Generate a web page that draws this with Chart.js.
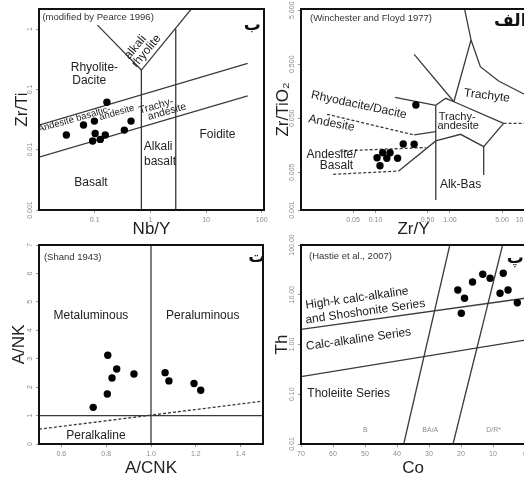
<!DOCTYPE html>
<html>
<head>
<meta charset="utf-8">
<script src="https://cdn.jsdelivr.net/npm/chart.js@4.4.0/dist/chart.umd.min.js"></script>
<style>
    body { margin: 0; background: #fff; width: 524px; height: 477px; overflow: hidden; position: relative; }
    canvas { position: absolute; }
</style>
</head>
<body>
<canvas id="pearce" width="268" height="240" style="left:0;top:0"></canvas>
<canvas id="winchester" width="268" height="240" style="left:262px;top:0"></canvas>
<canvas id="shand" width="268" height="248" style="left:0;top:232px"></canvas>
<canvas id="hastie" width="268" height="248" style="left:262px;top:232px"></canvas>
<script>
// samples - Nb/Y vs Zr/Ti
const nbY = [0.031, 0.063, 0.099, 0.166, 0.102, 0.092, 0.126, 0.155, 0.341, 0.45];
const zrTi = [0.0175, 0.0256, 0.0298, 0.061, 0.0186, 0.0139, 0.0148, 0.0175, 0.0211, 0.0298];

// samples - Zr/Y vs Zr/TiO2
const zrY = [0.349, 0.236, 0.331, 0.125, 0.157, 0.105, 0.142, 0.198, 0.115];
const zrTiO2 = [0.088, 0.0167, 0.0165, 0.0115, 0.0115, 0.0093, 0.0091, 0.0091, 0.0066];

// samples - A/CNK vs A/NK
const aCnk = [0.742, 0.805, 0.826, 0.847, 0.807, 0.924, 1.063, 1.080, 1.192, 1.222];
const aNk = [1.29, 1.76, 2.32, 2.64, 3.12, 2.46, 2.51, 2.22, 2.13, 1.89];

// samples - Co vs Th
const co = [21.0, 18.9, 19.9, 16.4, 13.2, 10.9, 6.8, 7.8, 5.3, 2.4];
const th = [12.5, 8.5, 4.24, 18.0, 25.8, 21.4, 27.0, 10.7, 12.5, 6.9];

// field boundaries [x, y]
const pearceLines = [
    [[0.01, 0.0256], [56, 0.27]],
    [[0.01, 0.0075], [56, 0.078]],
    [[0.112, 1.16], [0.69, 0.209], [5.56, 2.2]],
    [[0.69, 0.209], [0.69, 0.001]],
    [[2.86, 1], [2.86, 0.001]]
];
const winchesterLines = [
    [[1.57, 5.3], [1.92, 1.41], [1.13, 0.101]],
    [[1.92, 1.41], [2.56, 0.451], [4.5, 0.245], [9.4, 0.145], [20, 0.09]],
    [[0.331, 0.764], [1.13, 0.101]],
    [[0.183, 0.122], [0.645, 0.0868]],
    [[0.645, 0.0868], [0.877, 0.117], [1.13, 0.101], [5.25, 0.0403]],
    [[0.645, 0.0868], [0.645, 0.00153]],
    [[0.331, 0.0245], [0.645, 0.0282]],
    [[0.205, 0.00527], [0.645, 0.019], [1.39, 0.0252], [2.84, 0.01487], [5.25, 0.0403]],
    [[2.84, 0.01487], [2.84, 0.00445]]
];
const winchesterDashed = [
    [[0.0224, 0.0592], [0.331, 0.0245]],
    [[0.0331, 0.0124], [0.474, 0.01437]],
    [[0.0271, 0.00458], [0.205, 0.00527]],
    [[5.25, 0.0403], [20, 0.0403]]
];
const shandLines = [
    [[1, 0], [1, 7]],
    [[0.5, 1], [1.5, 1]]
];
const shandDashed = [
    [[0.5, 0.52], [1.5, 1.51]]
];
const hastieLines = [
    [[70, 2.02], [0, 8.5]],
    [[70, 0.225], [0, 1.23]],
    [[37.9, 0.01], [23.5, 100]],
    [[22.5, 0.01], [7.0, 100]]
];

// ticks
const pearceXTicks = [0.1, 1, 10, 100];
const pearceXLabels = ['0.1', '1', '10', '100'];
const pearceYTicks = [0.001, 0.01, 0.1, 1];
const pearceYLabels = ['0.001', '0.01', '0.1', '1'];
const winchesterXTicks = [0.05, 0.1, 0.5, 1, 5, 10];
const winchesterXLabels = ['0.05', '0.10', '0.50', '1.00', '5.00', '10.00'];
const winchesterYTicks = [0.001, 0.005, 0.05, 0.5, 5];
const winchesterYLabels = ['0.001', '0.005', '0.050', '0.500', '5.000'];
const shandXTicks = [0.6, 0.8, 1.0, 1.2, 1.4];
const shandXLabels = ['0.6', '0.8', '1.0', '1.2', '1.4'];
const shandYTicks = [0, 1, 2, 3, 4, 5, 6, 7];
const shandYLabels = ['0', '1', '2', '3', '4', '5', '6', '7'];
const hastieXTicks = [70, 60, 50, 40, 30, 20, 10, 0];
const hastieXLabels = ['70', '60', '50', '40', '30', '20', '10', '0'];
const hastieYTicks = [0.01, 0.1, 1, 10, 100];
const hastieYLabels = ['0.01', '0.10', '1.00', '10.00', '100.00'];

const FONT = '"Liberation Sans", Arial, sans-serif';

const decor = {
    id: 'decor',
    afterDatasetsDraw(chart, args, o) {
        const { ctx, chartArea: a, scales: { x, y } } = chart;
        ctx.save();
        ctx.fillStyle = '#8c8c8c';
        ctx.font = '7px ' + FONT;
        ctx.textAlign = 'center';
        ctx.textBaseline = 'middle';
        o.xTicks.forEach((v, i) => ctx.fillText(o.xLabels[i], x.getPixelForValue(v), a.bottom + 10));
        o.yTicks.forEach((v, i) => {
            ctx.save();
            ctx.translate(a.left - 9, y.getPixelForValue(v));
            ctx.rotate(-Math.PI / 2);
            ctx.fillText(o.yLabels[i], 0, 0);
            ctx.restore();
        });

        ctx.strokeStyle = '#111';
        ctx.lineWidth = 2;
        ctx.strokeRect(a.left, a.top, a.right - a.left, a.bottom - a.top);

        o.notes.forEach(n => {
            ctx.save();
            ctx.translate(x.getPixelForValue(n.x), y.getPixelForValue(n.y));
            ctx.rotate((n.rot || 0) * Math.PI / 180);
            ctx.fillStyle = n.color || '#222';
            ctx.font = n.font || ('12px ' + FONT);
            ctx.textAlign = n.align || 'center';
            ctx.textBaseline = 'middle';
            ctx.fillText(n.t, 0, 0);
            ctx.restore();
        });
        ctx.restore();
    }
};

function lineSets(lines, dashed) {
    return lines.map(pts => ({
        data: pts.map(p => ({ x: p[0], y: p[1] })),
        showLine: true,
        pointRadius: 0,
        borderColor: '#3a3a3a',
        borderWidth: 1.3,
        borderDash: dashed ? [3, 2] : [],
        tension: 0
    }));
}

function makeChart(id, c) {
    const axis = (type, min, max, ticks, title, pad, fit, horizontal, reverse) => ({
        type, min, max, reverse: !!reverse,
        afterBuildTicks: s => { s.ticks = ticks.map(v => ({ value: v })); },
        afterFit: s => { if (horizontal) s.height = fit; else s.width = fit; },
        ticks: { display: false },
        grid: { drawOnChartArea: false, drawTicks: true, tickLength: 3, color: '#999' },
        border: { display: false },
        title: { display: true, text: title, color: '#222', font: { family: FONT, size: 17 }, padding: pad }
    });

    const points = {
        data: c.xs.map((v, i) => ({ x: v, y: c.ys[i] })),
        pointRadius: 3.7,
        pointBackgroundColor: '#000',
        pointBorderWidth: 0,
        showLine: false
    };

    return new Chart(document.getElementById(id), {
        type: 'scatter',
        data: { datasets: [points, ...lineSets(c.lines, false), ...lineSets(c.dashed || [], true)] },
        options: {
            responsive: false,
            animation: false,
            layout: { padding: c.pad },
            plugins: {
                legend: { display: false },
                tooltip: { enabled: false },
                decor: { xTicks: c.xTicks, xLabels: c.xLabels, yTicks: c.yTicks, yLabels: c.yLabels, notes: c.notes }
            },
            scales: {
                x: axis(c.xType, c.xMin, c.xMax, c.xTicks, c.xTitle, { top: 0, bottom: c.xPad }, c.xFit, true, c.xReverse),
                y: axis(c.yType, c.yMin, c.yMax, c.yTicks, c.yTitle, { top: c.yPad, bottom: 0 }, 39, false)
            }
        },
        plugins: [decor]
    });
}

const arabic = 'bold 17px "DejaVu Sans", sans-serif';
const cite = '9.5px ' + FONT;
const band = '9.5px ' + FONT;

makeChart('pearce', {
    xs: nbY, ys: zrTi, lines: pearceLines,
    xType: 'logarithmic', xMin: 0.01, xMax: 110, yType: 'logarithmic', yMin: 0.001, yMax: 2.15,
    xTicks: pearceXTicks, xLabels: pearceXLabels, yTicks: pearceYTicks, yLabels: pearceYLabels,
    xTitle: 'Nb/Y', yTitle: 'Zr/Ti', xPad: 0, yPad: 12.5, xFit: 30,
    pad: { top: 9, right: 3, left: 0, bottom: 0 },
    notes: [
        { t: '(modified by Pearce 1996)', x: 0.0115, y: 1.56, align: 'left', font: cite, color: '#333' },
        { t: 'ب', x: 68, y: 1.16, font: arabic, color: '#111' },
        { t: 'Rhyolite-', x: 0.099, y: 0.225 },
        { t: 'Dacite', x: 0.08, y: 0.139 },
        { t: 'alkali', x: 0.54, y: 0.5, rot: -50 },
        { t: 'rhyolite', x: 0.85, y: 0.43, rot: -50 },
        { t: 'Andesite basaltic-', x: 0.043, y: 0.032, rot: -16, font: band },
        { t: 'andesite', x: 0.25, y: 0.041, rot: -16, font: band },
        { t: 'Trachy-', x: 1.27, y: 0.053, rot: -16, font: '10.5px ' + FONT },
        { t: 'andesite', x: 2.0, y: 0.0425, rot: -16, font: '10.5px ' + FONT },
        { t: 'Foidite', x: 16.1, y: 0.0175 },
        { t: 'Alkali', x: 1.38, y: 0.0112 },
        { t: 'basalt', x: 1.49, y: 0.0063 },
        { t: 'Basalt', x: 0.086, y: 0.0028 }
    ]
});

makeChart('winchester', {
    xs: zrY, ys: zrTiO2, lines: winchesterLines, dashed: winchesterDashed,
    xType: 'logarithmic', xMin: 0.01, xMax: 10.5, yType: 'logarithmic', yMin: 0.001, yMax: 5.27,
    xTicks: winchesterXTicks, xLabels: winchesterXLabels, yTicks: winchesterYTicks, yLabels: winchesterYLabels,
    xTitle: 'Zr/Y', yTitle: 'Zr/TiO₂', xPad: 0, yPad: 11.5, xFit: 30,
    pad: { top: 9, right: 3, left: 0, bottom: 0 },
    notes: [
        { t: '(Winchester and Floyd 1977)', x: 0.0132, y: 3.59, align: 'left', font: cite, color: '#333' },
        { t: 'الف', x: 6.45, y: 3.07, font: arabic, color: '#111' },
        { t: 'Rhyodacite/Dacite', x: 0.0599, y: 0.088, rot: 12 },
        { t: 'Andesite', x: 0.0257, y: 0.0403, rot: 11 },
        { t: 'Andesite/', x: 0.0257, y: 0.01044 },
        { t: 'Basalt', x: 0.03, y: 0.0066 },
        { t: 'Trachy-', x: 1.25, y: 0.0534, font: '11px ' + FONT },
        { t: 'andesite', x: 1.29, y: 0.036, font: '11px ' + FONT },
        { t: 'Trachyte', x: 3.14, y: 0.131, rot: 7 },
        { t: 'Alk-Bas', x: 1.39, y: 0.003 }
    ]
});

makeChart('shand', {
    xs: aCnk, ys: aNk, lines: shandLines, dashed: shandDashed,
    xType: 'linear', xMin: 0.5, xMax: 1.5, yType: 'linear', yMin: 0, yMax: 7,
    xTicks: shandXTicks, xLabels: shandXLabels, yTicks: shandYTicks, yLabels: shandYLabels,
    xTitle: 'A/CNK', yTitle: 'A/NK', xPad: 1, yPad: 9, xFit: 36,
    pad: { top: 13, right: 5, left: 0, bottom: 0 },
    notes: [
        { t: '(Shand 1943)', x: 0.522, y: 6.58, align: 'left', font: cite, color: '#333' },
        { t: 'ت', x: 1.472, y: 6.54, font: arabic, color: '#111' },
        { t: 'Metaluminous', x: 0.732, y: 4.5 },
        { t: 'Peraluminous', x: 1.231, y: 4.5 },
        { t: 'Peralkaline', x: 0.754, y: 0.28 }
    ]
});

makeChart('hastie', {
    xs: co, ys: th, lines: hastieLines,
    xType: 'linear', xMin: 0, xMax: 70, xReverse: true, yType: 'logarithmic', yMin: 0.01, yMax: 100,
    xTicks: hastieXTicks, xLabels: hastieXLabels, yTicks: hastieYTicks, yLabels: hastieYLabels,
    xTitle: 'Co', yTitle: 'Th', xPad: 1, yPad: 10.5, xFit: 36,
    pad: { top: 13, right: 5, left: 0, bottom: 0 },
    notes: [
        { t: '(Hastie et al., 2007)', x: 67.5, y: 60, align: 'left', font: cite, color: '#333' },
        { t: 'پ', x: 3.0, y: 54, font: arabic, color: '#111' },
        { t: 'High-k calc-alkaline', x: 52.5, y: 8.5, rot: -8 },
        { t: 'and Shoshonite Series', x: 49.9, y: 4.56, rot: -8 },
        { t: 'Calc-alkaline Series', x: 52, y: 1.27, rot: -8 },
        { t: 'Tholeiite Series', x: 55.1, y: 0.1045 },
        { t: 'B', x: 49.9, y: 0.0191, font: '7px ' + FONT, color: '#8c8c8c' },
        { t: 'BA/A', x: 29.6, y: 0.0191, font: '7px ' + FONT, color: '#8c8c8c' },
        { t: 'D/R*', x: 9.8, y: 0.0191, font: '7px ' + FONT, color: '#8c8c8c' }
    ]
});
</script>
</body>
</html>
